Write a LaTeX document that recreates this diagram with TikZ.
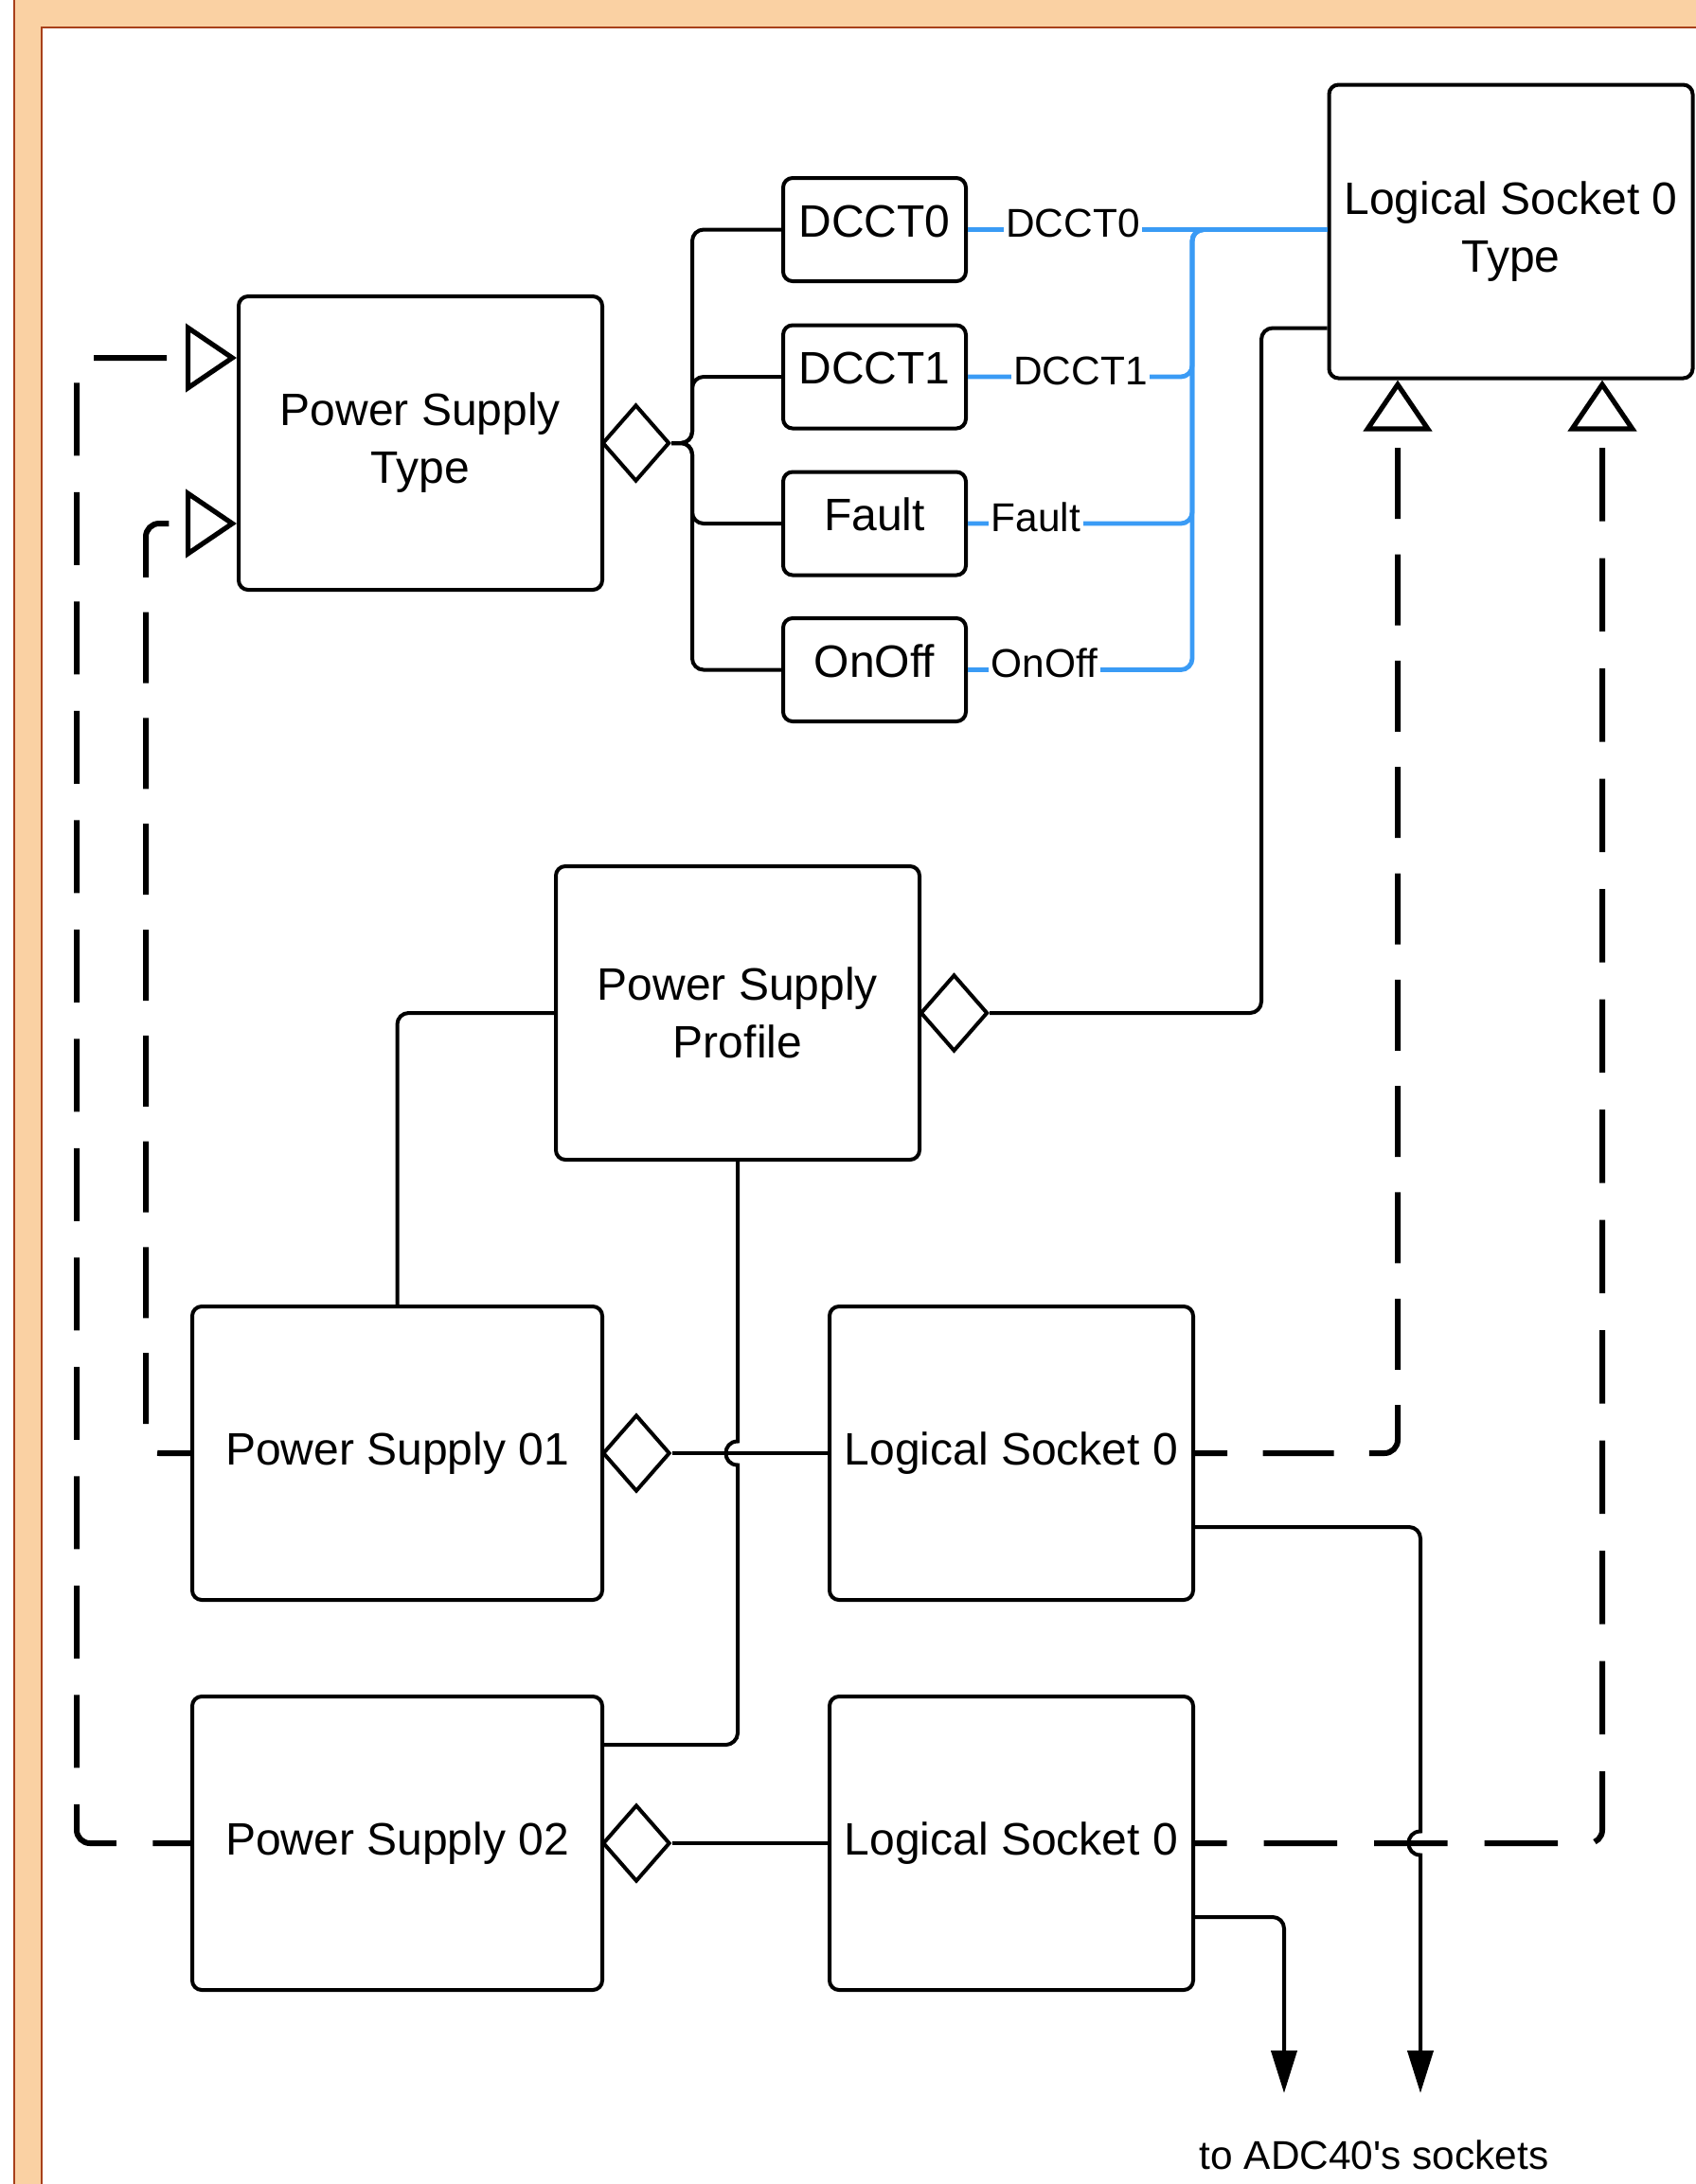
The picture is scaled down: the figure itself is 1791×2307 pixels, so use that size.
\documentclass[tikz,border=0pt]{standalone}
\usepackage{fontspec}
\newfontfamily\lsans{Liberation Sans}
\usetikzlibrary{arrows.meta,shapes.geometric,calc}
\definecolor{peach}{RGB}{250,209,163}
\definecolor{brn}{RGB}{168,64,26}
\definecolor{lblue}{RGB}{58,155,245}
\begin{document}
\begin{tikzpicture}[x=0.25pt,y=-0.25pt,
  box/.style={draw, line width=1pt, rounded corners=2.5pt, fill=white, align=center,
    font=\lsans\fontsize{12}{15.25}\selectfont, inner sep=0pt},
  bigbox/.style={box, minimum width=96pt, minimum height=77.5pt},
  psbox/.style={box, minimum width=108.25pt, minimum height=77.5pt},
  smallbox/.style={box, minimum width=48.25pt, minimum height=27.25pt, text height=8.6pt, text depth=4.8pt},
  diam/.style={diamond, draw, line width=1pt, fill=white, inner sep=0pt, minimum width=17.75pt, minimum height=20.25pt},
  conn/.style={draw, line width=1pt},
  blu/.style={draw=lblue, line width=1.2pt},
  dsh/.style={draw, line width=1.5pt, rounded corners=3.5pt},
  gen/.style={{Triangle[open,length=13.5pt,width=18pt,line width=1.3pt]}-},
  arr/.style={-{Triangle[length=11.25pt,width=6.75pt]}},
  lbl/.style={fill=white, inner xsep=0.6pt, inner ysep=1pt, font=\lsans\fontsize{10.6}{12}\selectfont, anchor=base}
]
\useasboundingbox (0,0) rectangle (1791,2307);
\clip (0,0) rectangle (1791,2307);
% frame
\fill[white] (0,0) rectangle (1791,2307);
\draw[draw=brn, fill=peach, line width=0.7pt] (15,-20) rectangle (1811,2327);
\draw[draw=brn, fill=white, line width=0.7pt] (44,29) rectangle (1811,2327);

% nodes
\node[bigbox] (PST) at (444,468) {Power Supply\\Type};
\node[smallbox] (dc0) at (923.5,242.5) {DCCT0};
\node[smallbox] (dc1) at (923.5,398) {DCCT1};
\node[smallbox] (flt) at (923.5,553) {Fault};
\node[smallbox] (onf) at (923.5,707.5) {OnOff};
\node[bigbox] (LS0T) at (1595.5,244.5) {Logical Socket 0\\Type};
\node[bigbox] (PSP) at (779,1070) {Power Supply\\Profile};
\node[psbox] (PS01) at (419.5,1535) {Power Supply 01};
\node[bigbox] (LS0a) at (1068,1535) {Logical Socket 0};
\node[psbox] (PS02) at (419.5,1947) {Power Supply 02};
\node[bigbox] (LS0b) at (1068,1947) {Logical Socket 0};

\node[diam] (dPST) at (671.5,468) {};
\node[diam] (dPSP) at (1007.5,1070) {};
\node[diam] (dPS01) at (672,1535) {};
\node[diam] (dPS02) at (672,1947) {};

\coordinate (bus) at (1259,242.5);
\coordinate (e1) at (1356,2211);
\coordinate (e2) at (1500,2211);

% composition trunk
\draw[conn, rounded corners=3pt] (dPST.east) -- (731,468) |- (dc0.west);
\draw[conn, rounded corners=3pt] (dPST.east) -- (731,468) |- (dc1.west);
\draw[conn, rounded corners=3pt] (dPST.east) -- (731,468) |- (flt.west);
\draw[conn, rounded corners=3pt] (dPST.east) -- (731,468) |- (onf.west);

% blue bus
\draw[blu] (dc0.east) -- (dc0.east -| LS0T.west);
\draw[blu, rounded corners=3pt] (dc1.east) -| (bus) -- (dc0.east -| LS0T.west);
\draw[blu, rounded corners=3pt] (flt.east) -| (bus) -- (dc0.east -| LS0T.west);
\draw[blu, rounded corners=3pt] (onf.east) -| (bus) -- (dc0.east -| LS0T.west);
\node[lbl] (l0) at (1133,250.5) {DCCT0};
\node[lbl] (l1) at (1141,406) {DCCT1};
\node[lbl] (l2) at (1094,561) {Fault};
\node[lbl] (l3) at (1103,715.5) {OnOff};

% LS0 Type to profile diamond
\draw[conn, rounded corners=3pt] ($(LS0T.west)+(0,102)$) -- (1332,346.5) |- (dPSP.east);
% profile to PS01
\draw[conn, rounded corners=3pt] (PSP.west) -| (PS01.north);
% profile to PS02 with hop
\draw[conn] (PSP.south) -- (779,1522.5) .. controls (762.3,1522.5) and (762.3,1547.5) .. (779,1547.5)
  -- (779,1831) .. controls (779,1837.6) and (772.4,1843) .. (767,1843) -- ($(PS02.east)+(0,-104)$);
% diamonds to sockets
\draw[conn] (dPS01.east) -- (LS0a.west);
\draw[conn] (dPS02.east) -- (LS0b.west);

% dashed generalisations (drawn from the superclass end)
\draw[dsh, gen, dash pattern=on 19.25pt off 9.625pt, dash phase=23.6pt]
  ($(PST.west)+(0,-90)$) -| ($(PS02.west)+(-120,0)$) -- (PS02.west);
\draw[dsh, gen, dash pattern=on 18.75pt off 9.2pt, dash phase=23.2pt]
  ($(PST.west)+(0,85)$) -| ($(PS01.west)+(-47,0)$) -- (PS01.west);
\draw[dsh, gen, dash pattern=on 18.75pt off 9.33pt, dash phase=23.33pt]
  ($(LS0T.south)+(-119.5,0)$) |- (LS0a.east);
\draw[dsh, gen, dash pattern=on 19.375pt off 9.75pt, dash phase=24.375pt]
  ($(LS0T.south)+(96.5,0)$) |- (LS0b.east);

% outgoing arrows
\draw[conn, arr, rounded corners=3pt] ($(LS0b.east)+(0,78)$) -| (e1);
\draw[conn, arr] ($(LS0a.east)+(0,78)$) -- (1488,1613) .. controls (1494.6,1613) and (1500,1618.4) .. (1500,1625)
  -- (1500,1934.5) .. controls (1483.3,1934.5) and (1483.3,1959.5) .. (1500,1959.5) -- (e2);

\node[lbl, fill=none] (adc) at (1451,2291.7) {to ADC40's sockets};
\end{tikzpicture}
\end{document}
